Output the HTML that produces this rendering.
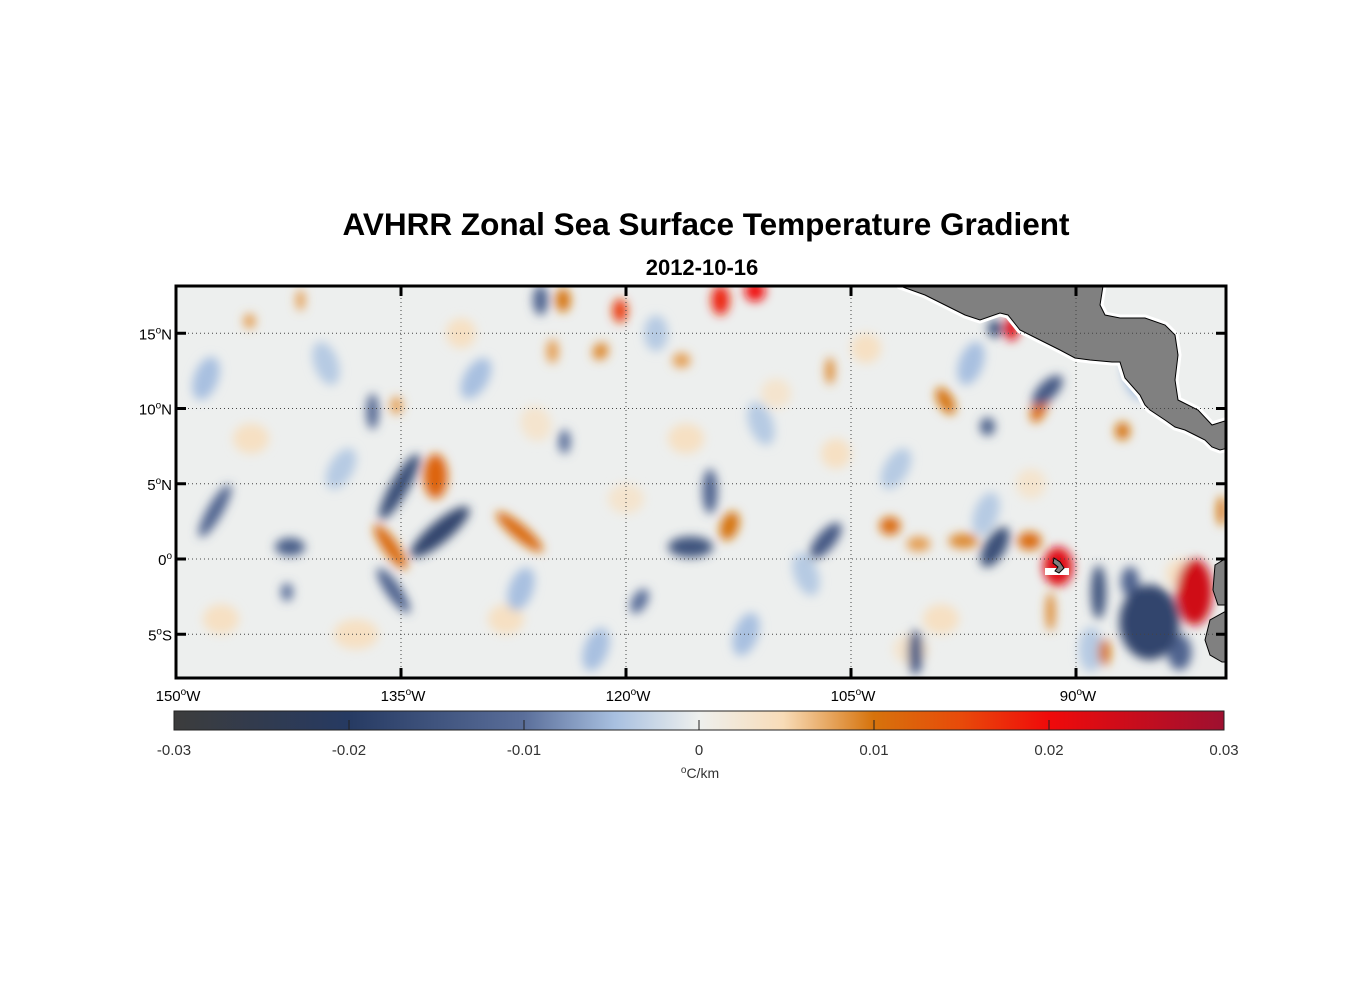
<!DOCTYPE html>
<html><head><meta charset="utf-8"><style>
body{margin:0;background:#fff;font-family:"Liberation Sans",Arial,sans-serif}
svg text{font-family:"Liberation Sans",Arial,sans-serif}
</style></head><body>
<svg id="chart" width="1356" height="1000" xmlns="http://www.w3.org/2000/svg">
<defs>
<clipPath id="mapclip"><rect x="176" y="286" width="1050" height="392"/></clipPath>
<filter id="blur" x="-50%" y="-50%" width="200%" height="200%"><feGaussianBlur stdDeviation="5"/></filter>
<linearGradient id="cbar" x1="0" x2="1" y1="0" y2="0">
<stop offset="0" stop-color="#3c3c3c"/><stop offset="0.166" stop-color="#263a62"/>
<stop offset="0.333" stop-color="#5a6e9a"/><stop offset="0.42" stop-color="#a8c0e0"/>
<stop offset="0.5" stop-color="#eef0ee"/><stop offset="0.58" stop-color="#f8dcb8"/>
<stop offset="0.666" stop-color="#d6730c"/><stop offset="0.75" stop-color="#e84a0a"/>
<stop offset="0.833" stop-color="#f00a0a"/><stop offset="1" stop-color="#9e1030"/>
</linearGradient>
</defs>
<text x="706" y="235" text-anchor="middle" font-size="31.5" font-weight="bold">AVHRR Zonal Sea Surface Temperature Gradient</text>
<text x="702" y="275" text-anchor="middle" font-size="22" font-weight="bold">2012-10-16</text>
<rect x="176" y="286" width="1050" height="392" fill="#edefee"/>
<g id="field" clip-path="url(#mapclip)"><g id="blobs" filter="url(#blur)"></g></g>
<g id="land" clip-path="url(#mapclip)">
<path d="M900,286 L925,295 945,305 965,315 980,320 1000,313 1008,315 1020,330 1040,340 1060,350 1075,358 1090,360 1112,362 1120,362 1125,378 1140,395 1145,405 1150,410 1165,420 1175,427 1185,430 1195,435 1205,440 1212,447 1220,450 1228,448 1228,420 1212,425 1198,410 1178,400 1175,380 1178,355 1175,335 1165,325 1145,318 1120,318 1105,315 1100,305 1103,286 Z" fill="#808080" stroke="#fff" stroke-width="7" stroke-linejoin="round"/>
<path d="M900,286 L925,295 945,305 965,315 980,320 1000,313 1008,315 1020,330 1040,340 1060,350 1075,358 1090,360 1112,362 1120,362 1125,378 1140,395 1145,405 1150,410 1165,420 1175,427 1185,430 1195,435 1205,440 1212,447 1220,450 1228,448 1228,420 1212,425 1198,410 1178,400 1175,380 1178,355 1175,335 1165,325 1145,318 1120,318 1105,315 1100,305 1103,286 Z" fill="#808080" stroke="#000" stroke-width="1"/>
<path d="M1228,557 L1215,565 1213,590 1218,605 1228,605 Z" fill="#808080" stroke="#000" stroke-width="1"/>
<path d="M1228,610 L1210,620 1205,640 1210,655 1222,662 1228,662 Z" fill="#808080" stroke="#000" stroke-width="1"/>
<rect x="1045" y="568" width="24" height="7" fill="#fff"/>
<path d="M1054,558 L1060,562 1064,568 1059,573 1055,571 1058,567 1053,563 Z" fill="#808080" stroke="#000" stroke-width="1"/>
</g>
<g id="grid"></g>
<rect x="176" y="286" width="1050" height="392" fill="none" stroke="#000" stroke-width="3"/>
<g id="ticks"></g>
<rect x="174" y="711" width="1050" height="19" fill="url(#cbar)" stroke="#222" stroke-width="1"/>
<g id="cbticks"></g>
<text x="700" y="778" text-anchor="middle" font-size="14" fill="#333"><tspan font-size="10" dy="-5">o</tspan><tspan dy="5">C/km</tspan></text>
</svg>
<script>
const lonTicks=[-150,-135,-120,-105,-90];
const latTicks=[15,10,5,0,-5];
const latLabels=["15","10","5","0","5"];
const latHemi=["N","N","N","","S"];
const cbTicks=[-0.03,-0.02,-0.01,0,0.01,0.02,0.03];
const cbLabels=["-0.03","-0.02","-0.01","0","0.01","0.02","0.03"];
// blobs: lon, lat, value, half-width (deg), half-height (deg), rotation
const blobLon=[-136.9,-135.1,-132.4,-135.5,-142.4,-147.4,-142.6,-125.7,-124.1,-115.7,-114.4,-106.7,-119.1,-100.7,-95.4,-95.9,-91.9,-95.4,-88.5,-85.1,-83.1,-86.4,
 -132.7,-135.7,-127.1,-124.2,-120.4,-113.7,-111.4,-113.1,-102.4,-93.1,-91.2,-91.7,-82.1,-94.3,-92.4,-98.7,-86.9,-88.1,-121.7,-135.3,-124.9,-116.3,-106.4,-145.1,-141.7,-80.3,-100.5,-97.5,
 -148,-145,-140,-138,-130,-128,-126,-122,-118,-116,-112,-110,-108,-104,-102,-99,-97,-93,-89,-86,-83,-147,-139,-131,-127,-120,-111,-106,-101,-96];
const blobLat=[9.8,4.8,1.8,-2.1,0.8,3.2,-2.2,17.2,7.8,0.8,4.5,1.2,-2.8,-6.2,0.8,8.8,11.2,15.3,-2.2,-4.2,-6.2,-1.5,
 5.5,0.8,1.8,17.2,16.5,17.2,17.8,2.2,2.2,1.2,-0.5,-3.5,-2.2,15.3,10.2,10.5,8.5,-6.2,13.8,10.2,13.8,13.2,12.5,15.8,17.2,3.2,1.0,1.2,
 12,8,13,-5,12,-4,9,-6,15,8,-5,11,-1,14,6,-4,13,5,-6,12,-1,-4,6,15,-2,4,9,7,-6,3];
const blobVal=[-0.012,-0.016,-0.018,-0.012,-0.013,-0.012,-0.010,-0.012,-0.010,-0.015,-0.012,-0.014,-0.010,-0.014,-0.016,-0.013,-0.014,-0.015,-0.015,-0.018,-0.012,-0.012,
 0.012,0.011,0.011,0.010,0.016,0.018,0.020,0.010,0.011,0.011,0.022,0.009,0.024,0.022,0.011,0.010,0.010,0.010,0.009,0.008,0.008,0.008,0.009,0.008,0.008,0.010,0.008,0.009,
 -0.005,0.004,-0.004,0.004,-0.005,0.004,0.003,-0.005,-0.004,0.004,-0.005,0.003,-0.004,0.004,-0.004,0.004,-0.005,0.003,-0.004,-0.005,0.004,0.004,-0.004,0.004,-0.005,0.003,-0.004,0.004,0.003,-0.004];
const blobRx=[0.4,0.6,0.7,0.5,1.0,0.5,0.4,0.5,0.4,1.5,0.5,0.6,0.5,0.5,0.7,0.5,0.6,0.5,0.5,2.0,0.8,0.6,
 0.8,0.5,0.5,0.5,0.5,0.6,0.7,0.6,0.7,0.8,1.0,0.3,1.2,0.5,0.5,0.5,0.5,0.4,0.5,0.4,0.4,0.6,0.3,0.4,0.3,0.3,0.8,1.0,
 0.8,1.2,0.8,1.5,0.8,1.2,1.0,0.8,0.8,1.2,0.8,1.0,0.8,1.0,0.8,1.2,0.8,1.0,0.8,0.8,1.0,1.2,0.8,1.0,0.8,1.2,0.8,1.0,1.2,0.8];
const blobRy=[1.2,2.5,2.5,1.8,0.6,2.0,0.6,1.0,0.8,0.7,1.5,1.5,0.9,1.5,1.5,0.6,1.3,0.6,1.8,2.5,1.2,1.0,
 1.5,1.8,2.0,0.8,0.8,1.0,0.7,1.0,0.6,0.6,1.3,1.3,2.2,0.8,1.2,1.0,0.6,0.9,0.6,0.6,0.8,0.5,0.9,0.5,0.7,1.0,0.5,0.5,
 1.5,1.0,1.5,1.0,1.5,1.0,1.2,1.5,1.2,1.0,1.5,1.0,1.5,1.0,1.5,1.0,1.5,1.0,1.5,1.5,1.0,1.0,1.5,1.0,1.5,1.0,1.5,1.0,1.0,1.5];
const blobRot=[0,30,50,-35,0,30,0,0,0,0,0,40,30,0,30,0,45,0,0,0,0,0,
 0,-35,-50,0,0,0,0,20,0,0,0,0,0,0,20,-30,0,0,30,0,0,0,0,0,0,0,0,0,
 20,0,-20,0,30,0,-20,20,0,0,20,0,-20,0,30,0,20,0,0,-20,0,0,30,0,20,0,-20,0,0,20];
const X=lon=>176+(lon+150)*15;
const Y=lat=>559-lat*15.05;
const CB=v=>174+(v+0.03)/0.06*1050;
const stops=[[-0.03,[60,60,60]],[-0.02,[38,58,98]],[-0.01,[90,110,154]],[-0.005,[168,192,224]],[0,[238,240,238]],[0.005,[248,220,184]],[0.01,[214,115,12]],[0.015,[232,74,10]],[0.02,[240,10,10]],[0.03,[158,16,48]]];
function color(v){v=Math.max(-0.03,Math.min(0.03,v));for(let i=0;i<stops.length-1;i++){const a=stops[i],b=stops[i+1];if(v<=b[0]){const t=(v-a[0])/(b[0]-a[0]);return 'rgb('+a[1].map((c,k)=>Math.round(c+(b[1][k]-c)*t)).join(',')+')';}}return 'rgb(158,16,48)';}
const NS='http://www.w3.org/2000/svg';
const blobs=document.getElementById('blobs');
const order=blobLon.map((_,i)=>i).sort((a,b)=>Math.abs(blobVal[a])-Math.abs(blobVal[b]));
order.forEach(i=>{
 const e=document.createElementNS(NS,'ellipse');
 const cx=X(blobLon[i]),cy=Y(blobLat[i]);
 e.setAttribute('cx',cx);e.setAttribute('cy',cy);
 e.setAttribute('rx',blobRx[i]*15);e.setAttribute('ry',blobRy[i]*15);
 e.setAttribute('transform','rotate('+blobRot[i]+' '+cx+' '+cy+')');
 e.setAttribute('fill',color(blobVal[i]));
 
 
 blobs.appendChild(e);
});
const grid=document.getElementById('grid'),ticks=document.getElementById('ticks');
function line(p,x1,y1,x2,y2,st,w,dash){const l=document.createElementNS(NS,'line');l.setAttribute('x1',x1);l.setAttribute('y1',y1);l.setAttribute('x2',x2);l.setAttribute('y2',y2);l.setAttribute('stroke',st);l.setAttribute('stroke-width',w);if(dash)l.setAttribute('stroke-dasharray',dash);p.appendChild(l);return l;}
function label(p,x,y,anchor,num,suffix,size){const t=document.createElementNS(NS,'text');t.setAttribute('x',x);t.setAttribute('y',y);t.setAttribute('text-anchor',anchor);t.setAttribute('font-size',size);t.innerHTML=num+'<tspan font-size="10" dy="-6">o</tspan><tspan dy="6">'+suffix+'</tspan>';p.appendChild(t);return t;}
lonTicks.forEach(lon=>{const x=X(lon);
 if(lon>-150){const g=line(grid,x,286,x,678,'#444',1,'1,3');
 line(ticks,x,286,x,296,'#000',3);line(ticks,x,668,x,678,'#000',3);}
 const t=label(ticks,x+2,701,'middle',String(-lon),'W',15);
 
 
});
latTicks.forEach((lat,i)=>{const y=Y(lat);
 const g=line(grid,176,y,1226,y,'#444',1,'1,3');
 line(ticks,176,y,186,y,'#000',3);line(ticks,1216,y,1226,y,'#000',3);
 const t=label(ticks,172,y+6,'end',latLabels[i],latHemi[i],15);
 
 
});
const cbt=document.getElementById('cbticks');
cbTicks.forEach((v,i)=>{const x=CB(v);
 if(i>0&&i<cbTicks.length-1)line(cbt,x,720,x,730,'#222',1);
 const t=document.createElementNS(NS,'text');t.setAttribute('x',x);t.setAttribute('y',755);t.setAttribute('text-anchor','middle');t.setAttribute('font-size','15');t.setAttribute('fill','#333');t.textContent=cbLabels[i];
 
 
 cbt.appendChild(t);
});
</script>
</body></html>
